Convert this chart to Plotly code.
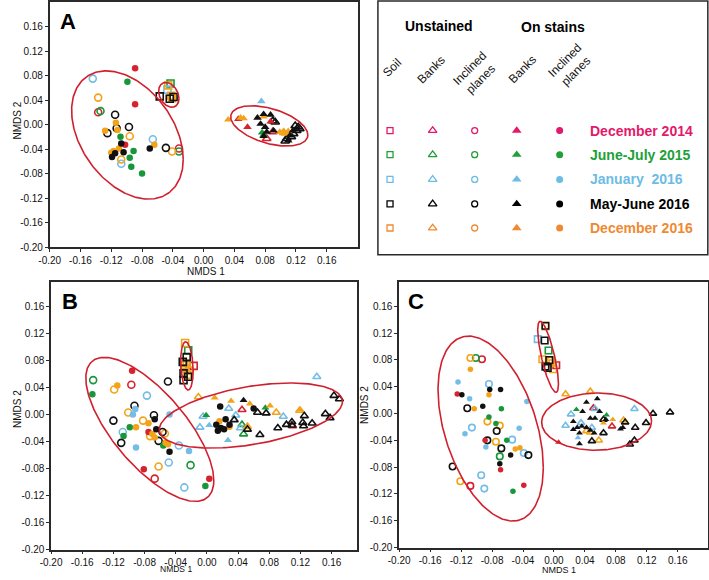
import numpy as np
import plotly.graph_objects as go

# ---------------- DATA (NMDS coordinates) ----------------
periods = ["December 2014", "June-July 2015", "January\u00a0 2016", "May-June 2016", "December 2016"]
# period index: 0 Dec 2014, 1 Jun-Jul 2015, 2 Jan 2016, 3 May-Jun 2016, 4 Dec 2016

# ---- Panel A ----
A_soil_x = [-0.057, -0.043, -0.046, -0.047, -0.042, -0.044, -0.039, -0.041]
A_soil_y = [0.046, 0.067, 0.064, 0.057, 0.047, 0.042, 0.045, 0.043]
A_soil_p = [3, 1, 4, 2, 4, 3, 3, 4]

A_bu_x = [0.104, 0.082, 0.090, 0.093, 0.090, 0.108, 0.114, 0.121, 0.123, 0.125, 0.117, 0.106, 0.119]
A_bu_y = [-0.013, -0.023, -0.012, 0.004, 0.006, -0.023, -0.020, -0.010, -0.004, -0.007, -0.015, -0.027, -0.002]
A_bu_p = [4, 0, 0, 3, 3, 3, 3, 3, 3, 3, 3, 3, 3]

A_iu_x = [-0.137, -0.096, -0.107, -0.041, -0.144, -0.066, -0.107, -0.115, -0.097, -0.125, -0.049, -0.113,
          -0.137, -0.032, -0.134, -0.032]
A_iu_y = [0.044, -0.019, -0.057, -0.044, 0.075, -0.024, -0.064, 0.016, -0.004, -0.014, -0.038, -0.006,
          0.020, -0.039, 0.022, -0.044]
A_iu_p = [4, 4, 4, 4, 2, 2, 2, 3, 3, 3, 3, 3, 0, 0, 1, 1]

A_bs_x = [0.075, 0.032, 0.048, 0.052, 0.078, 0.099, 0.104, 0.110, 0.106, 0.045, 0.057, 0.087, 0.076, 0.078,
          0.070, 0.078, 0.087, 0.074, 0.080, 0.082, 0.078, 0.091, 0.112, 0.116, 0.110]
A_bs_y = [0.038, 0.008, 0.011, 0.010, 0.013, -0.012, -0.011, -0.011, -0.015, 0.009, -0.004, 0.005, -0.013, -0.017,
          0.011, 0.017, 0.016, 0.001, -0.004, -0.012, -0.019, -0.010, -0.018, -0.010, -0.026]
A_bs_p = [2, 4, 4, 4, 4, 4, 4, 4, 4, 0, 0, 0, 1, 1, 3, 3, 3, 3, 3, 3, 3, 3, 3, 3, 3]

A_is_x = [-0.089, -0.089, -0.102, -0.099, -0.108, -0.091, -0.096, -0.094, -0.080, -0.107, -0.119, -0.104, -0.070,
          -0.115, -0.128, -0.114, -0.112, -0.117, -0.120, -0.110, -0.064]
A_is_y = [0.092, 0.033, -0.033, 0.070, -0.020, -0.043, -0.054, -0.069, -0.080, -0.031, -0.053, -0.045, -0.039,
          -0.047, -0.010, 0.003, -0.009, -0.043, -0.046, -0.039, -0.033]
A_is_p = [0, 0, 0, 1, 1, 1, 1, 1, 1, 3, 3, 3, 3, 3, 4, 4, 4, 4, 4, 4, 4]

# ---- Panel B ----
B_soil_x = [-0.028, -0.024, -0.026, -0.026, -0.017, -0.031, -0.028, -0.030, -0.030, -0.025, -0.023, -0.024, -0.029]
B_soil_y = [0.106, 0.095, 0.085, 0.076, 0.072, 0.078, 0.068, 0.061, 0.051, 0.059, 0.065, 0.056, 0.073]
B_soil_p = [4, 1, 3, 4, 0, 3, 4, 3, 3, 4, 4, 3, 4]

B_bu_x = [0.141, 0.028, 0.098, -0.005, -0.009, 0.037, 0.043,
          0.163, 0.170, 0.065, 0.076, 0.125, 0.152, 0.158, 0.109, 0.102, 0.109, 0.091, 0.124, 0.135, 0.123,
          0.068, 0.035, 0.052,
          -0.011, 0.089, 0.119, 0.052, 0.045, 0.110, 0.045, 0.047]
B_bu_y = [0.056, 0.009, -0.003, -0.003, -0.019, -0.001, -0.020,
          0.028, 0.023, 0.003, 0.002, -0.002, 0.001, -0.005, -0.011, -0.015, -0.016, -0.020, -0.017, -0.013, -0.012,
          -0.030, -0.008, -0.022,
          0.026, 0.003, 0.006, -0.018, 0.007, -0.017, -0.015, -0.029]
B_bu_p = [2, 2, 2, 2, 2, 2, 2,
          3, 3, 3, 3, 3, 3, 3, 3, 3, 3, 3, 3, 3, 3,
          3, 3, 3,
          4, 4, 4, 4, 0, 0, 1, 1]

B_iu_x = [-0.146, -0.021, -0.097, -0.067, -0.119, -0.101, -0.082, -0.073, -0.054, -0.062,
          -0.077, -0.108, -0.036, -0.049, -0.029, -0.050, -0.093, -0.120, -0.068, -0.110, -0.057, -0.062]
B_iu_y = [0.051, -0.075, 0.044, -0.095, 0.037, 0.003, -0.009, -0.032, -0.028, -0.077,
          0.028, -0.026, -0.046, -0.071, -0.108, 0.049, 0.013, -0.009, -0.001, -0.042, -0.026, -0.039]
B_iu_p = [1, 1, 0, 0, 4, 4, 4, 4, 4, 4, 2, 2, 2, 2, 2, 3, 3, 3, 3, 3, 3, 3]

B_bs_x = [0.010, 0.031, 0.055, 0.081, 0.120, 0.047, 0.075, -0.001, 0.003, 0.027]
B_bs_y = [0.025, 0.020, 0.016, 0.013, 0.007, 0.021, 0.010, -0.001, -0.016, -0.038]
B_bs_p = [4, 4, 4, 4, 4, 3, 1, 1, 2, 2]

B_is_x = [-0.147, -0.099, -0.107, -0.056, -0.002,
          -0.096, -0.075, -0.081, 0.003,
          -0.115, -0.075, -0.091, -0.070, -0.067, -0.053, -0.050, 0.016, 0.029,
          -0.092, -0.095, -0.048, -0.091, -0.023,
          -0.067, -0.065, -0.048, 0.017, 0.060, 0.012, 0.018, 0.014, 0.024, 0.022, 0.029]
B_is_y = [0.030, -0.019, -0.032, -0.046, -0.106,
          0.065, -0.026, -0.081, -0.095,
          0.043, -0.013, -0.019, -0.029, -0.034, -0.042, -0.044, -0.010, -0.018,
          0.008, 0.000, 0.000, -0.049, -0.054,
          -0.007, -0.022, -0.055, 0.012, 0.009, -0.015, -0.020, -0.024, -0.007, -0.022, -0.015]
B_is_p = [1, 1, 1, 1, 1,
          0, 0, 0, 0,
          4, 4, 4, 4, 4, 4, 4, 4, 4,
          2, 2, 2, 2, 2,
          3, 3, 3, 3, 3, 3, 3, 3, 3, 3, 3]

# ---- Panel C ----
C_soil_x = [-0.011, -0.011, -0.021, -0.012, -0.007, -0.015, -0.006, -0.004, -0.011, -0.001, 0.003, -0.002, -0.008]
C_soil_y = [0.131, 0.130, 0.111, 0.109, 0.094, 0.081, 0.080, 0.079, 0.070, 0.066, 0.072, 0.075, 0.068]
C_soil_p = [3, 4, 2, 3, 1, 4, 3, 4, 3, 4, 0, 4, 3]

C_bu_x = [0.015, 0.047, 0.090, 0.042, 0.047, 0.058, 0.051, 0.075,
          0.053, 0.022, 0.104, 0.015, 0.035, 0.049,
          0.064, 0.128, 0.150, 0.064, 0.049, 0.092, 0.105, 0.119, 0.104, 0.098]
C_bu_y = [0.029, 0.033, -0.010, -0.026, -0.028, -0.040, 0.008, -0.019,
          0.007, -0.001, 0.007, -0.018, -0.014, -0.021,
          -0.009, 0.000, 0.002, -0.029, -0.041, -0.013, -0.021, -0.014, -0.040, -0.046]
C_bu_p = [4, 4, 4, 4, 4, 4, 0, 0,
          2, 2, 2, 2, 2, 2,
          3, 3, 3, 3, 3, 3, 3, 3, 3, 3]

C_iu_x = [-0.108, -0.086, -0.070, -0.075, -0.121, -0.101, -0.070, -0.093, -0.108,
          -0.084, -0.106, -0.054, -0.039, -0.094, -0.090,
          -0.112, -0.074, -0.086, -0.068, -0.033, -0.131]
C_iu_y = [0.083, -0.012, -0.018, -0.042, -0.101, 0.083, -0.064, 0.081, -0.108,
          0.044, -0.021, -0.039, -0.059, -0.092, -0.112,
          0.008, -0.026, -0.040, -0.052, -0.062, -0.079]
C_iu_p = [4, 4, 4, 4, 4, 1, 1, 0, 0,
          2, 2, 2, 2, 2, 2,
          3, 3, 3, 3, 3, 3]

C_bs_x = [0.056, 0.042, 0.037, 0.059, 0.047, 0.053, 0.067, 0.025, 0.030, 0.025, 0.033, 0.036, 0.042, 0.047,
          0.052, 0.033, 0.086, 0.089, 0.029, 0.068, 0.076, 0.064, 0.031, 0.006]
C_bs_y = [0.022, 0.017, 0.003, 0.003, -0.007, -0.007, -0.009, -0.012, -0.021, -0.024, -0.029, -0.019, -0.021,
          -0.025, -0.029, -0.045, -0.023, -0.021, 0.006, -0.002, -0.009, -0.014, -0.036, -0.043]
C_bs_p = [3, 3, 3, 3, 3, 3, 3, 3, 3, 3, 3, 3, 3, 3, 3, 3, 3, 3, 1, 1, 4, 4, 2, 0]

C_is_x = [-0.108, -0.084, -0.103, -0.050, -0.044,
          -0.124, -0.109, -0.035, -0.115, -0.045, -0.088,
          -0.083, -0.069, -0.119, -0.092, -0.056, -0.070,
          -0.125, -0.089, -0.069, -0.039,
          -0.068, -0.084, -0.075, -0.061, -0.053]
C_is_y = [0.066, 0.028, 0.007, -0.053, -0.051,
          0.047, 0.022, 0.018, -0.030, -0.022, -0.050,
          0.036, 0.036, 0.028, 0.011, -0.062, -0.075,
          0.029, -0.040, -0.084, -0.107,
          0.007, -0.005, -0.015, -0.040, -0.116]
C_is_p = [4, 4, 4, 4, 4,
          2, 2, 2, 2, 2, 2,
          3, 3, 3, 3, 3, 3,
          0, 0, 0, 0,
          1, 1, 1, 1, 1]

# group ellipses: centre x, centre y, half-width, half-height, correlation
A_ellipses = [(-0.099, -0.017, 0.0725, 0.1046, -0.38),
              (-0.0452, 0.0485, 0.0132, 0.0202, -0.30),
              (0.0853, -0.0022, 0.0501, 0.0329, -0.45)]
B_ellipses = [(-0.0733, -0.022, 0.0821, 0.1067, -0.71),
              (-0.0257, 0.072, 0.0080, 0.0357, -0.20),
              (0.0564, -0.0015, 0.1175, 0.0482, 0.43)]
C_ellipses = [(-0.0818, -0.0224, 0.0680, 0.1380, -0.42),
              (-0.0076, 0.0846, 0.0134, 0.0530, -0.76),
              (0.0551, -0.0121, 0.0710, 0.0427, 0.02)]

tick_vals = [-0.20, -0.16, -0.12, -0.08, -0.04, 0.00, 0.04, 0.08, 0.12, 0.16]
tick_text = ["-0.20", "-0.16", "-0.12", "-0.08", "-0.04", "0.00", "0.04", "0.08", "0.12", "0.16"]

legend_columns = ["Soil", "Banks", "Inclined<br>planes", "Banks", "Inclined<br>planes"]

# ---------------- STYLE ----------------
W, H = 709, 580
plot_colors = ["#D5232F", "#17963A", "#74BDE6", "#111111", "#F3A31A"]
legend_colors = ["#E3196B", "#21A038", "#6CBCE4", "#000000", "#EF8A32"]
ell_color = "#D0202E"
FONT = "Liberation Sans, Arial, sans-serif"

kinds = ["S", "BU", "IU", "BS", "IS"]
symbols = {"S": "square-open", "BU": "triangle-up-open", "IU": "circle-open",
           "BS": "triangle-up", "IS": "circle"}

panel_data = {
    "A": {"S": (A_soil_x, A_soil_y, A_soil_p), "BU": (A_bu_x, A_bu_y, A_bu_p), "IU": (A_iu_x, A_iu_y, A_iu_p),
          "BS": (A_bs_x, A_bs_y, A_bs_p), "IS": (A_is_x, A_is_y, A_is_p)},
    "B": {"S": (B_soil_x, B_soil_y, B_soil_p), "BU": (B_bu_x, B_bu_y, B_bu_p), "IU": (B_iu_x, B_iu_y, B_iu_p),
          "BS": (B_bs_x, B_bs_y, B_bs_p), "IS": (B_is_x, B_is_y, B_is_p)},
    "C": {"S": (C_soil_x, C_soil_y, C_soil_p), "BU": (C_bu_x, C_bu_y, C_bu_p), "IU": (C_iu_x, C_iu_y, C_iu_p),
          "BS": (C_bs_x, C_bs_y, C_bs_p), "IS": (C_is_x, C_is_y, C_is_p)},
}
panel_ellipses = {"A": A_ellipses, "B": B_ellipses, "C": C_ellipses}

# panel geometry in pixels (left, right, top, bottom) and axis ranges
geom = {
    "A": dict(ax="", l=39.3, r=352.0, t=2.0, b=249.3, xr=[-0.2, 0.2], yr=[-0.2, 0.2]),
    "B": dict(ax="2", l=40.7, r=351.0, t=284.0, b=554.3, xr=[-0.2, 0.192], yr=[-0.2, 0.197]),
    "C": dict(ax="3", l=394.3, r=707.7, t=284.0, b=552.3, xr=[-0.2, 0.1987], yr=[-0.2, 0.197]),
}
msize = {"A": {"S": 7, "BU": 7.5, "IU": 7, "BS": 7.5, "IS": 6.5},
         "B": {"S": 7, "BU": 7, "IU": 7, "BS": 7, "IS": 6.5},
         "C": {"S": 6.5, "BU": 6.5, "IU": 6.5, "BS": 6, "IS": 5.5}}


def fx(px):
    return px / W


def fy(py):
    return 1 - py / H


fig = go.Figure()

for name, g in geom.items():
    xa, ya = "x" + g["ax"], "y" + g["ax"]
    for k in kinds:
        xs, ys, ps = panel_data[name][k]
        for pi in [0, 1, 2, 4, 3]:
            sx = [x for x, p in zip(xs, ps) if p == pi]
            sy = [y for y, p in zip(ys, ps) if p == pi]
            if not sx:
                continue
            fig.add_trace(go.Scatter(
                x=sx, y=sy, mode="markers", xaxis=xa, yaxis=ya, showlegend=False, hoverinfo="skip",
                marker=dict(symbol=symbols[k], size=msize[name][k], color=plot_colors[pi],
                            line=dict(width=1.6 if k in ("S", "BU", "IU") else 0, color=plot_colors[pi]))))
    t = np.linspace(0, 2 * np.pi, 241)
    for cx, cy, wx, wy, rho in panel_ellipses[name]:
        ex = cx + wx * np.cos(t)
        ey = cy + wy * (rho * np.cos(t) + np.sqrt(1 - rho ** 2) * np.sin(t))
        fig.add_trace(go.Scatter(x=ex, y=ey, mode="lines", xaxis=xa, yaxis=ya, showlegend=False,
                                 hoverinfo="skip", line=dict(color=ell_color, width=1.6)))

# legend grid (drawn on a hidden overlay axis measured in pixels)
leg_col_x = [385, 428.3, 471, 513.7, 557.3]
leg_row_y = [131.7, 156, 181, 205.7, 230]
leg_sizes = {"S": 6, "BU": 7.5, "IU": 6, "BS": 8.5, "IS": 7}
for ci, k in enumerate(kinds):
    for ri in range(len(periods)):
        fig.add_trace(go.Scatter(
            x=[leg_col_x[ci]], y=[leg_row_y[ri]], mode="markers", xaxis="x4", yaxis="y4",
            showlegend=False, hoverinfo="skip",
            marker=dict(symbol=symbols[k], size=leg_sizes[k], color=legend_colors[ri],
                        line=dict(width=1.3 if k in ("S", "BU", "IU") else 0, color=legend_colors[ri]))))

layout = dict(
    width=W, height=H, margin=dict(l=0, r=0, t=0, b=0),
    paper_bgcolor="white", plot_bgcolor="rgba(0,0,0,0)",
    font=dict(family=FONT, size=10, color="#111"),
    showlegend=False,
)
for name, g in geom.items():
    axcommon = dict(showgrid=False, zeroline=False, showline=True, mirror=True, linecolor="#2a2a2a",
                    linewidth=1.5, ticks="outside", ticklen=3, tickwidth=1, tickcolor="#2a2a2a",
                    tickvals=tick_vals, ticktext=tick_text, tickfont=dict(family=FONT, size=10, color="#111"))
    layout["xaxis" + g["ax"]] = dict(axcommon, domain=[fx(g["l"]), fx(g["r"])], range=g["xr"],
                                     anchor="y" + g["ax"])
    layout["yaxis" + g["ax"]] = dict(axcommon, domain=[fy(g["b"]), fy(g["t"])], range=g["yr"],
                                     anchor="x" + g["ax"])
layout["xaxis4"] = dict(domain=[0, 1], range=[0, W], visible=False, anchor="y4")
layout["yaxis4"] = dict(domain=[0, 1], range=[H, 0], visible=False, anchor="x4")
fig.update_layout(**layout)

# legend frame
fig.add_shape(type="rect", xref="paper", yref="paper", x0=fx(372.7), x1=fx(707.8), y0=fy(257.0), y1=fy(1.0),
              line=dict(color="#2a2a2a", width=1.5), fillcolor="rgba(0,0,0,0)")

ann = []
# panel letters
for letter, (px, py) in zip(["A", "B", "C"], [(58, 22), (59.5, 304), (411.5, 304.5)]):
    ann.append(dict(text="<b>%s</b>" % letter, x=fx(px), y=fy(py), font=dict(size=22, color="#000")))
# axis titles
ann.append(dict(text="NMDS 1", x=fx(198), y=fy(273.5), borderpad=0, font=dict(size=10, color="#111")))
ann.append(dict(text="NMDS 1", x=fx(168), y=0, yanchor="bottom", borderpad=0, font=dict(size=8.5, color="#111")))
ann.append(dict(text="NMDS 1", x=fx(557), y=fy(574.5), borderpad=0, font=dict(size=9, color="#111")))
for py in [122, 413]:
    ann.append(dict(text="NMDS 2", x=0, y=fy(py), xanchor="left", borderpad=0, textangle=-90,
                    font=dict(size=10, color="#111")))
ann.append(dict(text="NMDS 2", x=fx(359), y=fy(408), textangle=-90, font=dict(size=10, color="#111")))
# legend headers
ann.append(dict(text="<b>Unstained</b>", x=fx(435), y=fy(26), font=dict(size=14, color="#000")))
ann.append(dict(text="<b>On stains</b>", x=fx(551), y=fy(27), font=dict(size=14, color="#000")))
for txt, (px, py) in zip(legend_columns, [(386.7, 68.3), (426.7, 71), (471.7, 75), (520, 70), (568.3, 66.7)]):
    ann.append(dict(text=txt, x=fx(px), y=fy(py), textangle=-45, font=dict(size=12, color="#111")))
for ri, label in enumerate(periods):
    ann.append(dict(text="<b>%s</b>" % label, x=fx(586), y=fy(leg_row_y[ri]), xanchor="left",
                    font=dict(size=14, color=legend_colors[ri])))

for a in ann:
    a.setdefault("xanchor", "center")
    a.setdefault("yanchor", "middle")
    a.update(xref="paper", yref="paper", showarrow=False)
    a["font"]["family"] = FONT
fig.update_layout(annotations=ann)

# remove the browser's default 8px page margin so the figure sits at the window origin
fig.write_html("out.html", config={"displayModeBar": False},
               post_script="document.body.style.margin='0px';")
